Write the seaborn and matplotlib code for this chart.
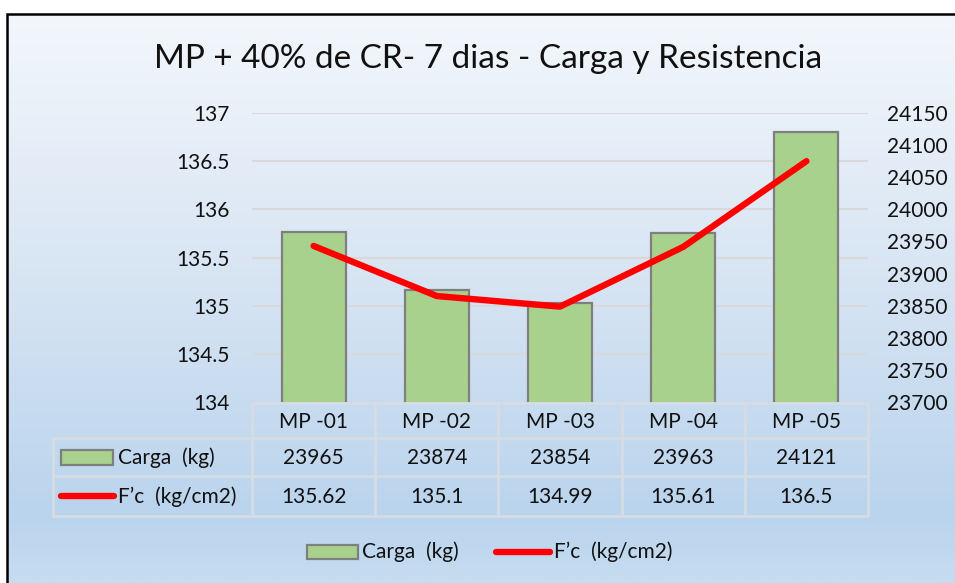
import numpy as np
import pandas as pd
import seaborn as sns
import matplotlib
matplotlib.use("Agg")
import matplotlib.pyplot as plt
from matplotlib.lines import Line2D
from matplotlib.patches import Rectangle
from matplotlib.colors import LinearSegmentedColormap
from matplotlib.transforms import blended_transform_factory

# ---------------- data ----------------
muestras = ["MP -01", "MP -02", "MP -03", "MP -04", "MP -05"]
carga = [23965, 23874, 23854, 23963, 24121]
fc = [135.62, 135.1, 134.99, 135.61, 136.5]
carga_ticks = [23700, 23750, 23800, 23850, 23900, 23950, 24000, 24050, 24100, 24150]
fc_ticks = [134, 134.5, 135, 135.5, 136, 136.5, 137]
fc_tick_labels = ["134", "134.5", "135", "135.5", "136", "136.5", "137"]
title = "MP + 40% de CR- 7 dias - Carga y Resistencia"
label_carga = "Carga  (kg)"
label_fc = "F\u2019c  (kg/cm2)"

df = pd.DataFrame({"Muestra": muestras, "Carga": carga, "Fc": fc,
                   "pos": np.arange(len(muestras))})

# ---------------- style ----------------
sns.set_theme(style="white")
FONT = ["Lato", "DejaVu Sans"]
plt.rcParams["font.family"] = FONT
TXT = "#111111"
GREEN = "#A9D18E"
EDGE = "#7F7F7F"
RED = "#FF0000"
GRID = "#D9D9D9"

W, H = 955, 583
fig = plt.figure(figsize=(W / 100, H / 100), dpi=100)

# background / overlay axes in pixel coordinates
bg = fig.add_axes([0, 0, 1, 1], zorder=-10)
bg.set_xlim(0, W)
bg.set_ylim(H, 0)
bg.axis("off")
cmap = LinearSegmentedColormap.from_list(
    "bgc", [(0.0, "#F3F7FC"), (0.45, "#D8E5F3"), (0.88, "#BAD4ED"), (1.0, "#C6DCF0")])
grad = np.linspace(0, 1, 256).reshape(-1, 1)
bg.imshow(grad, cmap=cmap, aspect="auto", extent=(7, W, H, 14), zorder=0)
bg.plot([7, 7, W], [H, 14, 14], color="black", lw=1.8, zorder=2,
        solid_joinstyle="miter")

# ---------------- main axes ----------------
PX0, PX1, PY0, PY1 = 252, 868, 113, 402
ax = fig.add_axes([PX0 / W, (H - PY1) / H, (PX1 - PX0) / W, (PY1 - PY0) / H])
ax2 = ax.twinx()
ax.patch.set_visible(False)
ax2.patch.set_visible(False)

sns.barplot(data=df, x="pos", y="Carga", ax=ax, color=GREEN, width=0.52,
            edgecolor=EDGE, linewidth=1.6, saturation=1, native_scale=True,
            zorder=2)
ax.set_ylim(carga_ticks[0], carga_ticks[-1])
ax.set_xlim(-0.5, len(muestras) - 0.5)

ax2.set_ylim(fc_ticks[0], fc_ticks[-1])
sns.lineplot(data=df, x="pos", y="Fc", ax=ax2, color=RED, linewidth=4.6,
             legend=False)
for ln in ax2.lines:
    ln.set_solid_capstyle("round")
    ln.set_solid_joinstyle("round")
ax2.set_xlim(-0.5, len(muestras) - 0.5)

# gridlines (primary/left axis values) behind the bars
tr = blended_transform_factory(ax.transAxes, ax2.transData)
for v in fc_ticks[1:]:
    ax.add_line(Line2D([0, 1], [v, v], transform=tr, color=GRID, lw=1.5, zorder=0.5))

# ticks: bars axis on right, line axis on left
ax.yaxis.tick_right()
ax.set_yticks(carga_ticks)
ax.set_yticklabels([str(t) for t in carga_ticks])
ax.tick_params(axis="y", length=0, pad=14, labelsize=15, labelcolor=TXT)
ax2.yaxis.tick_left()
ax2.set_yticks(fc_ticks)
ax2.set_yticklabels(fc_tick_labels)
ax2.tick_params(axis="y", length=0, pad=16, labelsize=15, labelcolor=TXT)
for a in (ax, ax2):
    a.set_xticks([])
    a.set_xlabel("")
    a.set_ylabel("")
    for s in a.spines.values():
        s.set_visible(False)

# ---------------- title ----------------
fig.text(488 / W, 1 - 59 / H, title, ha="center", va="center", fontsize=24,
         color=TXT, family=FONT)

# ---------------- data table ----------------
n = len(muestras)
cw = (PX1 - PX0) / n
col_edges = [PX0 + i * cw for i in range(n + 1)]
y_head0, y_row1, y_row2, y_end = 403, 438, 476, 516
LX = 53
TBL = "#D6DCE4"
tlw = 2.0
# horizontal lines
bg.plot([PX0, PX1], [y_head0, y_head0], color=TBL, lw=tlw, zorder=3)
for yy in (y_row1, y_row2, y_end):
    bg.plot([LX, PX1], [yy, yy], color=TBL, lw=tlw, zorder=3)
# vertical lines
for xx in col_edges:
    bg.plot([xx, xx], [y_head0, y_end], color=TBL, lw=tlw, zorder=3)
bg.plot([LX, LX], [y_row1, y_end], color=TBL, lw=tlw, zorder=3)

fs = 15
for i in range(n):
    cx = (col_edges[i] + col_edges[i + 1]) / 2
    bg.text(cx, (y_head0 + y_row1) / 2 + 1, muestras[i], ha="center", va="center",
            fontsize=fs, color=TXT, zorder=4)
    bg.text(cx, (y_row1 + y_row2) / 2 + 1, f"{carga[i]}", ha="center", va="center",
            fontsize=fs, color=TXT, zorder=4)
    bg.text(cx, (y_row2 + y_end) / 2 + 1, f"{fc[i]:g}", ha="center", va="center",
            fontsize=fs, color=TXT, zorder=4)

# row headers with legend keys
bg.add_patch(Rectangle((61, 450), 52, 15, facecolor=GREEN, edgecolor=EDGE, lw=1.6, zorder=4))
bg.text(118, (y_row1 + y_row2) / 2 + 1, label_carga, ha="left", va="center",
        fontsize=fs, color=TXT, zorder=4)
bg.plot([61, 114], [496, 496], color=RED, lw=4.6, solid_capstyle="round", zorder=4)
bg.text(118, (y_row2 + y_end) / 2 + 1, label_fc, ha="left", va="center",
        fontsize=fs, color=TXT, zorder=4)

# ---------------- bottom legend ----------------
bg.add_patch(Rectangle((307, 545), 51, 14, facecolor=GREEN, edgecolor=EDGE, lw=1.6, zorder=4))
bg.text(362, 552, label_carga, ha="left", va="center", fontsize=fs, color=TXT, zorder=4)
bg.plot([496, 550], [552, 552], color=RED, lw=4.6, solid_capstyle="round", zorder=4)
bg.text(554, 552, label_fc, ha="left", va="center", fontsize=fs, color=TXT, zorder=4)

fig.savefig("out.png", dpi=100)
